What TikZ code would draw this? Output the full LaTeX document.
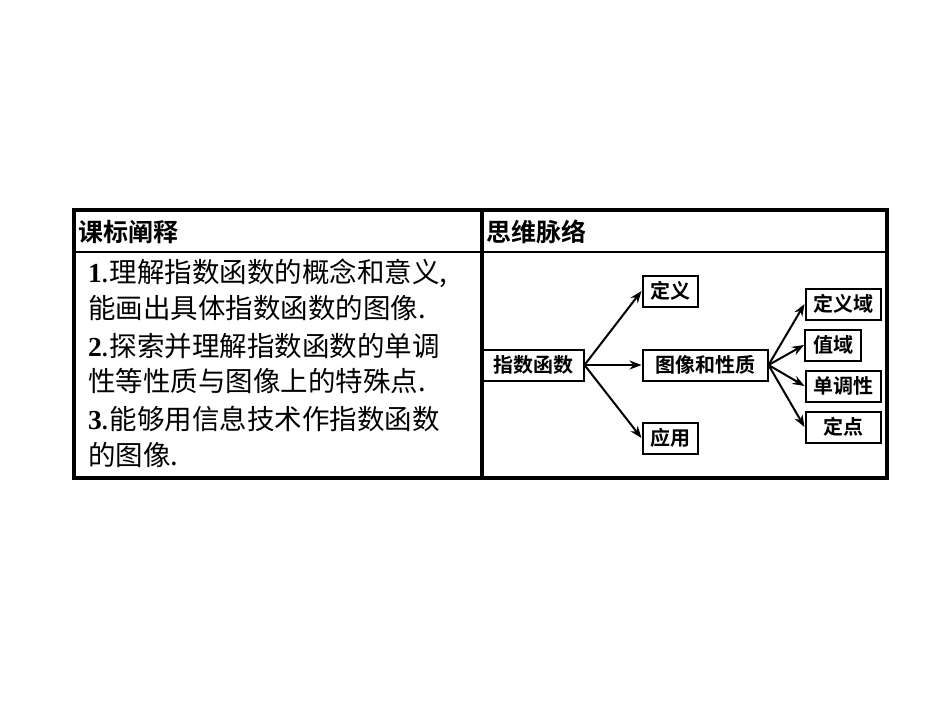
\documentclass[tikz,border=0pt]{standalone}
\usepackage{fontspec}
\setmainfont{Liberation Serif}
\newfontfamily\cjk{Noto Sans CJK SC}
\newfontfamily\cjkb{Noto Sans CJK SC Bold}
\newcommand{\numb}[1]{{\rmfamily\bfseries #1}}
\usetikzlibrary{arrows.meta}
\tikzset{
  box/.style={draw, line width=2pt, inner sep=0pt, minimum height=31pt, font=\cjkb\fontsize{20}{20}\selectfont},
  link/.style={line width=2pt, -{Stealth[length=12pt,width=9pt]}},
  line/.style={anchor=west, inner sep=0pt, font=\cjk\fontsize{27.5}{27.5}\selectfont}
}
\begin{document}
\begin{tikzpicture}[x=1pt,y=-1pt]
  \useasboundingbox[fill=white] (0,0) rectangle (950,713);

  % Table frame
  \draw[line width=3.5pt] (74,210) rectangle (887,478);
  \draw[line width=2pt] (74,252) -- (887,252);
  \draw[line width=3.5pt] (482,210) -- (482,478);

  % Header
  \node[line, font=\cjkb\fontsize{25}{25}\selectfont] (hleft) at (78,232) {课标阐释};
  \node[line, font=\cjkb\fontsize{25}{25}\selectfont] (hright) at (486,232) {思维脉络};

  % Left text
  \node[line] (l1) at (88,273) {\numb{1}.理解指数函数的概念和意义,};
  \node[line] (l2) at (88,308) {能画出具体指数函数的图像.};
  \node[line] (l3) at (88,346) {\numb{2}.探索并理解指数函数的单调};
  \node[line] (l4) at (88,381) {性等性质与图像上的特殊点.};
  \node[line] (l5) at (88,419) {\numb{3}.能够用信息技术作指数函数};
  \node[line] (l6) at (88,455) {的图像.};

  % Mind map
  \node[box, minimum width=101pt] (zs) at (533,365) {指数函数};
  \node[box, minimum width=55pt] (dy) at (670,291) {定义};
  \node[box, minimum width=125pt] (tx) at (705,365) {图像和性质};
  \node[box, minimum width=55pt] (yy) at (670,438) {应用};
  \node[box, minimum width=75pt] (dyy) at (843,304) {定义域};
  \node[box, minimum width=56pt] (zy) at (833,345) {值域};
  \node[box, minimum width=75pt] (ddx) at (843,386) {单调性};
  \node[box, minimum width=75pt] (dd) at (843,427) {定点};

  \draw[link] (zs.east) -- (dy.west);
  \draw[link] (zs.east) -- (tx.west);
  \draw[link] (zs.east) -- (yy.west);
  \draw[link] (tx.east) -- (dyy.west);
  \draw[link] (tx.east) -- (zy.west);
  \draw[link] (tx.east) -- (ddx.west);
  \draw[link] (tx.east) -- (dd.west);
\end{tikzpicture}
\end{document}
